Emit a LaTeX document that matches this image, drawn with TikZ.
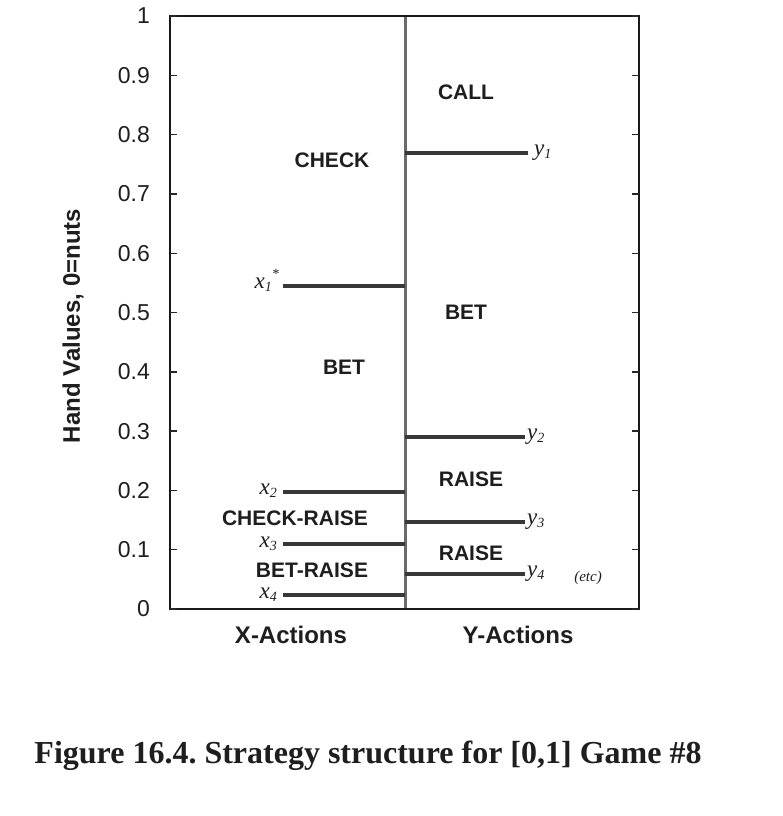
\documentclass[tikz,border=0pt]{standalone}
\usepackage{fontspec}
\usepackage{graphicx}
\newfontfamily\sansf{Liberation Sans}
\newfontfamily\serf{Liberation Serif}
\frenchspacing
\definecolor{ink}{HTML}{1E1E1E}
\definecolor{lineg}{HTML}{383838}
\definecolor{midg}{HTML}{6A6A6A}
\newcommand\subx[1]{\raisebox{-0.35ex}{\fontsize{14}{14}\selectfont #1}}
\newcommand\supx[1]{\raisebox{0.9ex}{\fontsize{14}{14}\selectfont #1}}
\tikzset{
  frame/.style={line width=2.2pt, draw=black!90},
  midline/.style={line width=3pt, draw=midg},
  sline/.style={line width=4pt, draw=lineg},
  tickm/.style={line width=1.4pt, draw=black!85},
  ticklab/.style={inner sep=0pt, anchor=east, text=ink, font=\sansf\fontsize{23}{23}\selectfont},
  region/.style={inner sep=0pt, text=ink, font=\sansf\bfseries\fontsize{21}{22}\selectfont},
  axlab/.style={inner sep=0pt, text=ink, font=\sansf\bfseries\fontsize{24}{26}\selectfont},
  varlab/.style={inner sep=0pt, text=ink, font=\serf\itshape\fontsize{23}{23}\selectfont},
}
\begin{document}
\begin{tikzpicture}[x=1pt,y=-1pt]
\useasboundingbox[fill=white] (0,0) rectangle (782,816);
% frame
\coordinate (TL) at (170,16);
\coordinate (BR) at (639,609);
\coordinate (MT) at (405,16);
\coordinate (MB) at (405,609);
\draw[midline] (MT) -- (MB);
\draw[frame] (TL) rectangle (BR);
% ticks and tick labels
\foreach \i/\t in {0/0,1/0.1,2/0.2,3/0.3,4/0.4,5/0.5,6/0.6,7/0.7,8/0.8,9/0.9,10/1}{
  \pgfmathsetmacro\yy{609-59.3*\i}
  \coordinate (tl\i) at (170,\yy);
  \coordinate (tr\i) at (639,\yy);
  \draw[tickm] (tl\i) -- ++(7,0);
  \draw[tickm] (tr\i) -- ++(-7,0);
  \node[ticklab] (lab\i) at (150,\yy) {\t};
}
% axis labels
\node[axlab, rotate=90] (ylab) at (73,326) {Hand Values, 0=nuts};
\node[axlab] (xact) at (291,635) {X-Actions};
\node[axlab] (yact) at (518,635) {Y-Actions};
% X strategy lines
\coordinate (x1a) at (283,286); \coordinate (x1b) at (405,286);
\coordinate (x2a) at (283,492); \coordinate (x2b) at (405,492);
\coordinate (x3a) at (283,544); \coordinate (x3b) at (405,544);
\coordinate (x4a) at (283,595); \coordinate (x4b) at (405,595);
\draw[sline] (x1a) -- (x1b);
\draw[sline] (x2a) -- (x2b);
\draw[sline] (x3a) -- (x3b);
\draw[sline] (x4a) -- (x4b);
\node[varlab, anchor=mid east] (x1l) at ([xshift=-4pt]x1a) {x\subx{1}\supx{*}};
\node[varlab, anchor=mid east] (x2l) at ([xshift=-6pt]x2a) {x\subx{2}};
\node[varlab, anchor=mid east] (x3l) at ([xshift=-6pt,yshift=-1pt]x3a) {x\subx{3}};
\node[varlab, anchor=mid east] (x4l) at ([xshift=-6pt,yshift=-1pt]x4a) {x\subx{4}};
% Y strategy lines
\coordinate (y1a) at (405,153); \coordinate (y1b) at (528,153);
\coordinate (y2a) at (405,437); \coordinate (y2b) at (525,437);
\coordinate (y3a) at (405,522); \coordinate (y3b) at (525,522);
\coordinate (y4a) at (405,574); \coordinate (y4b) at (525,574);
\draw[sline] (y1a) -- (y1b);
\draw[sline] (y2a) -- (y2b);
\draw[sline] (y3a) -- (y3b);
\draw[sline] (y4a) -- (y4b);
\node[varlab, anchor=mid west] (y1l) at ([xshift=6pt]y1b) {y\subx{1}};
\node[varlab, anchor=mid west] (y2l) at ([xshift=2pt]y2b) {y\subx{2}};
\node[varlab, anchor=mid west] (y3l) at ([xshift=2pt]y3b) {y\subx{3}};
\node[varlab, anchor=mid west] (y4l) at ([xshift=2pt]y4b) {y\subx{4}};
\node[inner sep=0pt, text=ink, font=\serf\itshape\fontsize{15}{15}\selectfont] (etc) at (588,578) {(etc)};
% region labels
\node[region] (check) at (332,160) {CHECK};
\node[region] (call) at (466,92) {CALL};
\node[region] (betx) at (344,367) {BET};
\node[region] (bety) at (466,312) {BET};
\node[region] (raise1) at (471,479) {RAISE};
\node[region] (raise2) at (471,553) {RAISE};
\node[region] (chkr) at (295,518) {CHECK-RAISE};
\node[region] (betr) at (312,570) {BET-RAISE};
% caption
\node[inner sep=0pt, text=ink, font=\serf\bfseries\fontsize{32}{34}\selectfont] (cap) at (368,756) {Figure 16.4. Strategy structure for [0,1] Game \#8};
\end{tikzpicture}
\end{document}
